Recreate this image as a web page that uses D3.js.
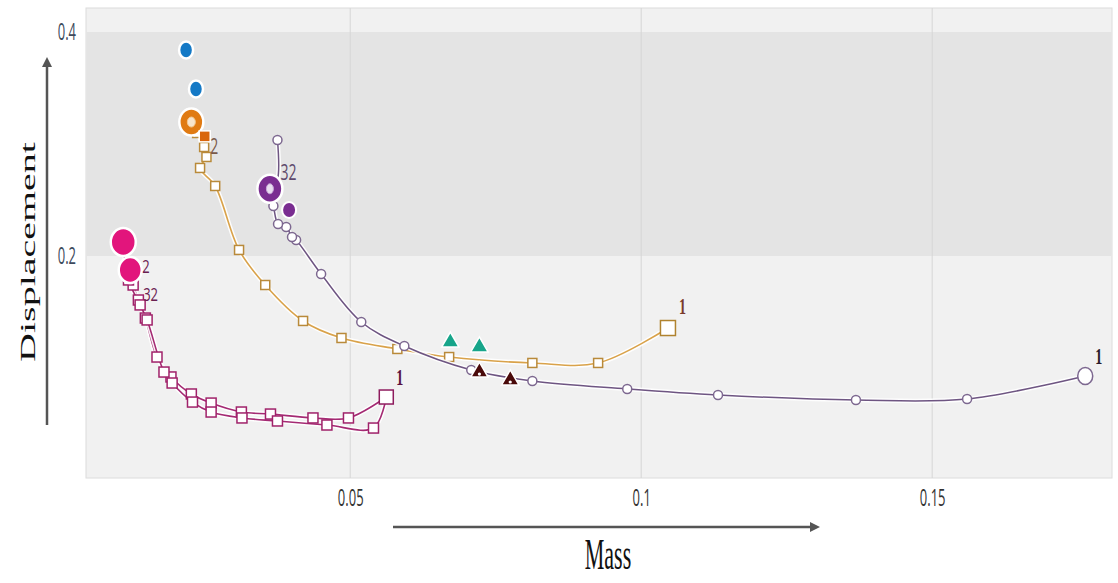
<!DOCTYPE html>
<html><head><meta charset="utf-8">
<script src="https://cdn.jsdelivr.net/npm/d3@7"></script>
<style>body{margin:0;background:#fff}</style></head>
<body><svg id="c" width="1118" height="583"></svg>
<script>
// ---- data ----
const xTicks = [0.05, 0.1, 0.15];
const xTickLabels = ["0.05", "0.1", "0.15"];
const yTicks = [0.2, 0.4];
const yTickLabels = ["0.2", "0.4"];
const band = [0.2, 0.4];

const orangeX = [0.1046, 0.0926, 0.0813, 0.0670, 0.0581, 0.0485, 0.0419, 0.0354, 0.0309, 0.0268, 0.0242, 0.0253, 0.0249, 0.0237, 0.0227];
const orangeY = [0.1357, 0.1045, 0.1045, 0.1098, 0.1170, 0.1268, 0.1420, 0.1741, 0.2054, 0.2625, 0.2786, 0.2884, 0.2973, 0.3098, 0.3196];

const purpleX = [0.1763, 0.1560, 0.1369, 0.1132, 0.0976, 0.0813, 0.0708, 0.0593, 0.0519, 0.0450, 0.0407, 0.0400, 0.0390, 0.0376, 0.0368, 0.0362, 0.0375, 0.0375];
const purpleY = [0.0929, 0.0723, 0.0714, 0.0759, 0.0813, 0.0884, 0.0982, 0.1196, 0.1411, 0.1839, 0.2143, 0.2170, 0.2259, 0.2286, 0.2446, 0.2560, 0.2680, 0.3036];

const pink1X = [0.0562, 0.0497, 0.0436, 0.0363, 0.0313, 0.0261, 0.0227, 0.0192, 0.0168, 0.0148, 0.0136, 0.0127, 0.0122];
const pink1Y = [0.0741, 0.0554, 0.0554, 0.0589, 0.0607, 0.0687, 0.0768, 0.0920, 0.1098, 0.1446, 0.1607, 0.1741, 0.1875];
const pink2X = [0.0562, 0.0540, 0.0460, 0.0375, 0.0314, 0.0261, 0.0229, 0.0194, 0.0180, 0.0151, 0.0139, 0.0119, 0.0110];
const pink2Y = [0.0741, 0.0464, 0.0491, 0.0527, 0.0554, 0.0607, 0.0696, 0.0866, 0.0964, 0.1429, 0.1563, 0.1786, 0.2125];

const blueX = [0.0218, 0.0235];
const blueY = [0.3839, 0.3491];
const greenX = [0.0672, 0.0722];
const greenY = [0.1232, 0.1188];
const darkX = [0.0722, 0.0775];
const darkY = [0.0964, 0.0893];

// ---- scales ----
const svg = d3.select("#c");
const x = d3.scaleLinear().domain([0.0046, 0.1809]).range([86, 1112]);
const y = d3.scaleLinear().domain([0.0018, 0.4214]).range([478, 8]);
const [x0, x1] = x.range(), [y0, y1] = y.range();

// background
svg.append("rect").attr("x", x0).attr("y", y1).attr("width", x1 - x0).attr("height", y0 - y1)
  .attr("fill", "#f1f1f1").attr("stroke", "#dcdcdc");
svg.append("rect").attr("x", x0 + 0.5).attr("y", y(band[1])).attr("width", x1 - x0 - 1)
  .attr("height", y(band[0]) - y(band[1])).attr("fill", "#e4e4e4");

// grid
svg.append("g").selectAll("line").data(xTicks).join("line")
  .attr("x1", d => x(d)).attr("x2", d => x(d)).attr("y1", y1).attr("y2", y0)
  .attr("stroke", "#d6d6d6").attr("stroke-width", 1);

// axes (tall, narrow glyphs as in the reference)
const xAxis = d3.axisBottom(x).tickValues(xTicks).tickFormat((d, i) => xTickLabels[i]).tickSize(0);
const gx = svg.append("g").attr("transform", `translate(0,${y0})`).call(xAxis);
gx.select(".domain").remove();
gx.selectAll("text").attr("y", 0).attr("dy", 0).attr("transform", "translate(0,28) scale(1,1.8)")
  .attr("font-family", "'Open Sans', sans-serif").attr("font-size", 13).attr("fill", "#333");
const yAxis = d3.axisLeft(y).tickValues(yTicks).tickFormat((d, i) => yTickLabels[i]).tickSize(0);
const gy = svg.append("g").attr("transform", `translate(${x0},0)`).call(yAxis);
gy.select(".domain").remove();
gy.selectAll("text").attr("x", 0).attr("dy", 0).attr("transform", "translate(-10,8) scale(1,1.8)")
  .attr("font-family", "'Open Sans', sans-serif").attr("font-size", 13).attr("fill", "#3d4a5c");

// axis titles with arrows
const defs = svg.append("defs");
defs.append("marker").attr("id", "ah").attr("viewBox", "0 0 10 10").attr("refX", 5).attr("refY", 5)
  .attr("markerWidth", 4).attr("markerHeight", 4).attr("orient", "auto")
  .append("path").attr("d", "M0,0 L10,5 L0,10 z").attr("fill", "#555");
svg.append("line").attr("x1", 47).attr("y1", 425).attr("x2", 47).attr("y2", 62)
  .attr("stroke", "#555").attr("stroke-width", 2.5).attr("marker-end", "url(#ah)");
svg.append("text").attr("transform", "translate(35,252) scale(1,2) rotate(-90)").attr("text-anchor", "middle")
  .attr("font-family", "'Liberation Serif', serif").attr("font-size", 20).attr("fill", "#111").text("Displacement");
svg.append("line").attr("x1", 393).attr("y1", 527).attr("x2", 815).attr("y2", 527)
  .attr("stroke", "#555").attr("stroke-width", 2.5).attr("marker-end", "url(#ah)");
svg.append("text").attr("transform", "translate(608,569) scale(1,2)").attr("text-anchor", "middle")
  .attr("font-family", "'Liberation Serif', serif").attr("font-size", 22).attr("fill", "#111").text("Mass");

// helpers
const zip = (xs, ys) => xs.map((v, i) => [v, ys[i]]);
const line = d3.line().x(d => x(d[0])).y(d => y(d[1])).curve(d3.curveCatmullRom.alpha(0.5));
function drawLine(pts, color, w) {
  svg.append("path").attr("d", line(pts)).attr("fill", "none").attr("stroke", "#fff").attr("stroke-width", w + 3).attr("stroke-opacity", 0.9);
  svg.append("path").attr("d", line(pts)).attr("fill", "none").attr("stroke", color).attr("stroke-width", w);
}
function squares(pts, stroke, s, fill) {
  svg.append("g").selectAll("rect").data(pts).join("rect")
    .attr("x", d => x(d[0]) - s / 2).attr("y", d => y(d[1]) - s / 2).attr("width", s).attr("height", s)
    .attr("fill", fill || "#fff").attr("stroke", stroke).attr("stroke-width", 1.5);
}
function circles(pts, stroke, r, fill, sw, ry) {
  svg.append("g").selectAll("ellipse").data(pts).join("ellipse")
    .attr("cx", d => x(d[0])).attr("cy", d => y(d[1])).attr("rx", r).attr("ry", ry || r)
    .attr("fill", fill || "#fff").attr("stroke", stroke).attr("stroke-width", sw || 1.5);
}
function label(px, py, txt, color, serif, size, sy) {
  svg.append("text").attr("transform", `translate(${px},${py}) scale(1,${sy || 1.5})`).text(txt).attr("fill", color)
    .attr("font-family", serif ? "'Liberation Serif', serif" : "'Open Sans', sans-serif")
    .attr("font-size", size || 14).attr("font-weight", serif ? "bold" : "normal");
}

// orange series
const orange = zip(orangeX, orangeY);
drawLine(orange, "#d9a24a", 1.6);
squares(orange.slice(1, -1), "#b98a3a", 9);
squares([orange[0]], "#b0832f", 15);
circles([orange[orange.length - 1]], "#fff", 12, "#e07a12", 2.5, 13.5);
squares([[orangeX[13] + 0.0013, orangeY[13] - 0.003]], "#fff", 11, "#d9660c");
circles([orange[orange.length - 1]], "#f3c890", 4, "#f7e4cc", 1, 5);

// purple series
const purple = zip(purpleX, purpleY);
drawLine(purple, "#6e5582", 1.5);
circles(purple.slice(1, -3), "#7d6890", 4.5);
circles([purple[purple.length - 1]], "#7d6890", 4.5);
circles([purple[0]], "#7d6890", 7.5, "#fff", 1.5, 8.5);
circles([[purpleX[15], purpleY[15] + 0.004]], "#fff", 12.5, "#7a2d91", 2.5, 14);
circles([[purpleX[15], purpleY[15] + 0.004]], "#c8a8d8", 3.5, "#e8dcef", 1, 5);
circles([[0.0395, 0.2411]], "#fff", 7, "#7a2d91", 2, 8);

// pink series
const pink1 = zip(pink1X, pink1Y), pink2 = zip(pink2X, pink2Y);
drawLine(pink1, "#a42a73", 1.6);
drawLine(pink2, "#a42a73", 1.6);
squares(pink1.slice(1, -1), "#a0226a", 10);
squares(pink2.slice(1, -1), "#a0226a", 10);
squares([pink1[0]], "#8e1c5e", 14);
circles([pink2[pink2.length - 1]], "#fff", 12.5, "#e2157c", 2.5, 14);
circles([pink1[pink1.length - 1]], "#fff", 11.5, "#e2157c", 2.5, 13);

// blue
circles(zip(blueX, blueY), "#fff", 7, "#1479c6", 2.5, 8.5);

// triangles
const tri = d3.symbol().type(d3.symbolTriangle).size(130);
svg.append("g").selectAll("path").data(zip(greenX, greenY)).join("path")
  .attr("d", tri).attr("transform", d => `translate(${x(d[0])},${y(d[1])})`)
  .attr("fill", "#17a58a").attr("stroke", "#fff").attr("stroke-width", 1.5);
svg.append("g").selectAll("path").data(zip(darkX, darkY)).join("path")
  .attr("d", tri).attr("transform", d => `translate(${x(d[0])},${y(d[1])})`)
  .attr("fill", "#4a0a0a").attr("stroke", "#fff").attr("stroke-width", 1.5);
svg.append("g").selectAll("circle").data(zip(darkX, darkY)).join("circle")
  .attr("cx", d => x(d[0])).attr("cy", d => y(d[1]) + 2).attr("r", 1.6).attr("fill", "#fff");

// labels
label(x(orangeX[0]) + 11, y(orangeY[0]) - 14, "1", "#7a3a2a", true, 14, 1.6);
label(x(purpleX[0]) + 10, y(purpleY[0]) - 12, "1", "#2a1a2a", true, 14, 1.6);
label(x(pink1X[0]) + 10, y(pink1Y[0]) - 12, "1", "#5a1040", true, 14, 1.6);
label(x(purpleX[17]) + 3, y(purpleY[17]) + 40, "32", "#5e4a6c", false, 14, 1.5);
label(x(orangeX[13]) + 13, y(orangeY[13]) + 21, "2", "#7a5a4a", false, 14, 1.5);
label(x(pink1X[12]) + 12, y(pink1Y[12]) + 3, "2", "#6a2050", false, 13, 1.4);
label(x(pink1X[11]) + 10, y(pink1Y[11]) + 16, "32", "#6a2050", false, 13, 1.4);
</script></body></html>
